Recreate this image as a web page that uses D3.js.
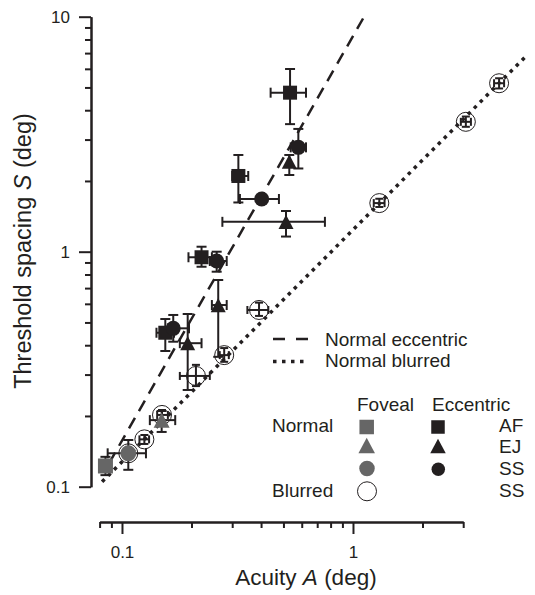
<!DOCTYPE html>
<html>
<head>
<meta charset="utf-8">
<script src="https://cdn.jsdelivr.net/npm/d3@7"></script>
<style>
  body { margin: 0; background: #fff; }
  svg { display: block; }
  text { font-family: "Liberation Sans", Arial, sans-serif; fill: #231f20; }
</style>
</head>
<body>
<svg id="chart" width="535" height="595"></svg>
<script>
// Each row: [acuity A, spacing S, A low, A high, S low, S high] (deg); null = no bar
const eccentricAF = [
  [0.534, 4.75, 0.440, 0.626, 3.49, 5.99],
  [0.319, 2.10, 0.300, 0.352, 1.62, 2.58],
  [0.221, 0.947, 0.194, 0.245, 0.863, 1.05],
  [0.154, 0.452, 0.141, 0.168, 0.378, 0.517]
];
const eccentricEJ = [
  [0.530, 2.42, null, null, 2.12, 2.58],
  [0.513, 1.34, 0.272, 0.756, 1.16, 1.49],
  [0.261, 0.593, 0.245, 0.284, 0.357, 0.758],
  [0.1925, 0.408, 0.178, 0.221, 0.258, 0.543]
];
const eccentricSS = [
  [0.580, 2.78, 0.5375, 0.626, 2.26, 3.33],
  [0.4025, 1.676, 0.324, 0.478, null, null],
  [0.257, 0.913, 0.240, 0.284, 0.822, 1.0],
  [0.1667, 0.472, 0.158, 0.195, 0.414, 0.538]
];
const fovealAF = [[0.0848, 0.1225, null, null, 0.112, 0.134]];
const fovealEJ = [[0.1485, 0.192, 0.132, 0.170, 0.171, 0.21]];
const fovealSS = [[0.1065, 0.1387, 0.0867, 0.127, 0.118, 0.158]];
const blurredSS = [
  [4.29, 5.21, 4.08, 4.51, 4.95, 5.47],
  [3.08, 3.57, 2.93, 3.24, 3.40, 3.76],
  [1.30, 1.61, 1.23, 1.37, 1.55, 1.68],
  [0.392, 0.565, 0.349, 0.430, 0.533, 0.607],
  [0.277, 0.363, 0.265, 0.290, 0.340, 0.389],
  [0.209, 0.296, 0.178, 0.240, 0.268, 0.330],
  [0.149, 0.202, 0.142, 0.158, 0.192, 0.212],
  [0.125, 0.159, 0.119, 0.131, 0.152, 0.166],
  [0.1065, 0.1387, null, null, null, null]
];

// Fitted reference lines (end points)
const eccentricFitA = [0.088, 1.117];
const eccentricFitS = [0.126, 10];
const blurredFitA = [0.082, 5.55];
const blurredFitS = [0.105, 6.72];

// Axis ticks
const xMajorTicks = [0.1, 1];
const xMajorLabels = ["0.1", "1"];
const xMinorTicks = [0.08, 0.09, 0.2, 0.3, 0.4, 0.5, 0.6, 0.7, 0.8, 0.9, 2, 3];
const yMajorTicks = [0.1, 1, 10];
const yMajorLabels = ["0.1", "1", "10"];
const yMinorTicks = [0.2, 0.3, 0.4, 0.5, 0.6, 0.7, 0.8, 0.9, 2, 3, 4, 5, 6, 7, 8, 9];

const ink = "#231f20";
const grey = "#666666";

const svg = d3.select("#chart");
const x = d3.scaleLog().domain([0.08, 3]).range([99.6, 463.2]);
const y = d3.scaleLog().domain([0.1, 10]).range([486.7, 16.7]);
const xAxisY = 522;
const yAxisX = 91;

function styleAxis(g) {
  g.select(".domain").attr("stroke", ink).attr("stroke-width", 2);
  g.selectAll(".tick line").attr("stroke", ink).attr("stroke-width", 2);
  g.selectAll(".tick text").attr("font-size", 17).attr("fill", ink)
    .attr("font-family", "Liberation Sans, Arial, sans-serif");
}

// x axis
svg.append("g").attr("transform", `translate(0,${xAxisY})`)
  .call(d3.axisBottom(x).tickValues(xMinorTicks).tickSize(6).tickSizeOuter(0).tickFormat(""))
  .call(styleAxis);
svg.append("g").attr("transform", `translate(0,${xAxisY})`)
  .call(d3.axisBottom(x).tickValues(xMajorTicks).tickSize(12).tickSizeOuter(0).tickPadding(12)
    .tickFormat((d, i) => xMajorLabels[i]))
  .call(styleAxis);

// y axis
svg.append("g").attr("transform", `translate(${yAxisX},0)`)
  .call(d3.axisLeft(y).tickValues(yMinorTicks).tickSize(6).tickSizeOuter(0).tickFormat(""))
  .call(styleAxis);
svg.append("g").attr("transform", `translate(${yAxisX},0)`)
  .call(d3.axisLeft(y).tickValues(yMajorTicks).tickSize(12).tickSizeOuter(0).tickPadding(9)
    .tickFormat((d, i) => yMajorLabels[i]))
  .call(styleAxis);

// axis titles
const xTitle = svg.append("text").attr("x", 306).attr("y", 585)
  .attr("text-anchor", "middle").attr("font-size", 22.5);
xTitle.append("tspan").text("Acuity ");
xTitle.append("tspan").attr("font-style", "italic").text("A");
xTitle.append("tspan").text(" (deg)");

const yTitle = svg.append("text").attr("transform", "translate(30.5,251) rotate(-90)")
  .attr("text-anchor", "middle").attr("font-size", 23.5);
yTitle.append("tspan").text("Threshold spacing ");
yTitle.append("tspan").attr("font-style", "italic").text("S");
yTitle.append("tspan").text(" (deg)");

// reference lines
const line = d3.line().x(d => x(d[0])).y(d => y(d[1]));
svg.append("path")
  .attr("d", line(eccentricFitA.map((a, i) => [a, eccentricFitS[i]])))
  .attr("fill", "none").attr("stroke", ink).attr("stroke-width", 2.5)
  .attr("stroke-dasharray", "12,8");
svg.append("path")
  .attr("d", line(blurredFitA.map((a, i) => [a, blurredFitS[i]])))
  .attr("fill", "none").attr("stroke", ink).attr("stroke-width", 3.5)
  .attr("stroke-dasharray", "3.5,5");

// marker shapes
function marker(g, shape, cx, cy, size, fill, stroke, sw) {
  let el;
  if (shape === "square") {
    el = g.append("rect").attr("x", cx - size / 2).attr("y", cy - size / 2)
      .attr("width", size).attr("height", size);
  } else if (shape === "circle") {
    el = g.append("circle").attr("cx", cx).attr("cy", cy).attr("r", size / 2);
  } else {
    const h = size * 0.95;
    el = g.append("path").attr("d",
      `M${cx},${cy - h / 2}L${cx + size / 2},${cy + h / 2}L${cx - size / 2},${cy + h / 2}Z`);
  }
  el.attr("fill", fill).attr("stroke", stroke || "none").attr("stroke-width", sw || 0);
  return el;
}

function errorBars(g, rows, cap) {
  rows.forEach(r => {
    const [a, s, aLo, aHi, sLo, sHi] = r;
    const cx = x(a), cy = y(s);
    const bar = (x1, y1, x2, y2) => g.append("line")
      .attr("x1", x1).attr("y1", y1).attr("x2", x2).attr("y2", y2)
      .attr("stroke", ink).attr("stroke-width", 2);
    if (aLo != null) {
      bar(x(aLo), cy, x(aHi), cy);
      bar(x(aLo), cy - cap, x(aLo), cy + cap);
      bar(x(aHi), cy - cap, x(aHi), cy + cap);
    }
    if (sLo != null) {
      bar(cx, y(sLo), cx, y(sHi));
      bar(cx - cap, y(sLo), cx + cap, y(sLo));
      bar(cx - cap, y(sHi), cx + cap, y(sHi));
    }
  });
}

const plot = svg.append("g");

// blurred (open circles)
errorBars(plot, blurredSS, 4);
blurredSS.forEach(r => marker(plot, "circle", x(r[0]), y(r[1]), 19, "none", ink, 1));

// normal foveal (grey)
[fovealAF, fovealEJ, fovealSS].forEach(rows => errorBars(plot, rows, 5));
fovealAF.forEach(r => marker(plot, "square", x(r[0]), y(r[1]), 15, grey));
fovealEJ.forEach(r => marker(plot, "triangle", x(r[0]), y(r[1]), 16, grey));
fovealSS.forEach(r => marker(plot, "circle", x(r[0]), y(r[1]), 16, grey));

// normal eccentric (black)
[eccentricAF, eccentricEJ, eccentricSS].forEach(rows => errorBars(plot, rows, 5));
eccentricAF.forEach(r => marker(plot, "square", x(r[0]), y(r[1]), 14, ink));
eccentricEJ.forEach(r => marker(plot, "triangle", x(r[0]), y(r[1]), 15, ink));
eccentricSS.forEach(r => marker(plot, "circle", x(r[0]), y(r[1]), 15, ink));

// legend: line styles
const lg = svg.append("g");
lg.append("line").attr("x1", 273).attr("x2", 308).attr("y1", 339).attr("y2", 339)
  .attr("stroke", ink).attr("stroke-width", 2.5).attr("stroke-dasharray", "12,11");
lg.append("line").attr("x1", 273).attr("x2", 309).attr("y1", 361.5).attr("y2", 361.5)
  .attr("stroke", ink).attr("stroke-width", 3.5).attr("stroke-dasharray", "3.5,5.5");
lg.append("text").attr("x", 325).attr("y", 345.7).attr("font-size", 19).text("Normal eccentric");
lg.append("text").attr("x", 325).attr("y", 366.7).attr("font-size", 19).text("Normal blurred");

// legend: symbols
lg.append("text").attr("x", 357).attr("y", 410.7).attr("font-size", 19).text("Foveal");
lg.append("text").attr("x", 432).attr("y", 410.7).attr("font-size", 19).text("Eccentric");
lg.append("text").attr("x", 272).attr("y", 431.7).attr("font-size", 19).text("Normal");
lg.append("text").attr("x", 272).attr("y", 496.7).attr("font-size", 19).text("Blurred");
lg.append("text").attr("x", 499).attr("y", 432).attr("font-size", 19).text("AF");
lg.append("text").attr("x", 499).attr("y", 453.3).attr("font-size", 19).text("EJ");
lg.append("text").attr("x", 499).attr("y", 475).attr("font-size", 19).text("SS");
lg.append("text").attr("x", 499).attr("y", 496.7).attr("font-size", 19).text("SS");

marker(lg, "square", 366.7, 427, 14.5, grey);
marker(lg, "square", 438, 427, 13.5, ink);
marker(lg, "triangle", 366.7, 445.5, 16.5, grey);
marker(lg, "triangle", 438, 446, 15.5, ink);
marker(lg, "circle", 367, 468.5, 15.5, grey);
marker(lg, "circle", 438.3, 469.2, 13.5, ink);
marker(lg, "circle", 367, 491.3, 19, "none", ink, 1);
</script>
</body>
</html>
